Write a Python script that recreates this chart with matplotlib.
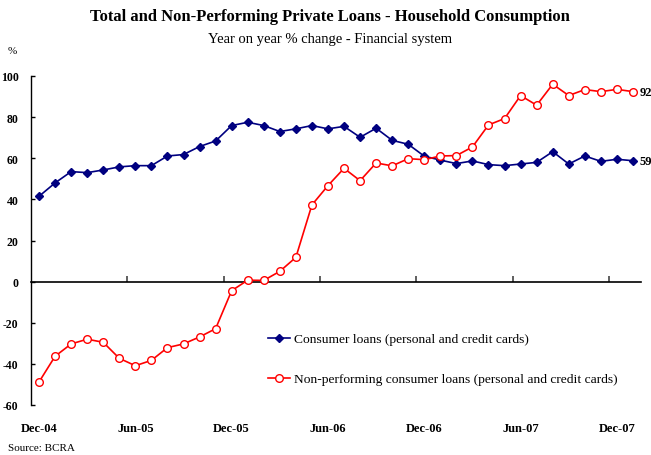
import numpy as np
import matplotlib
matplotlib.use("Agg")
import matplotlib.pyplot as plt

plt.rcParams['font.family'] = ['Liberation Serif', 'DejaVu Serif']
plt.rcParams['axes.unicode_minus'] = False

months = ['Dec-04', 'Jun-05', 'Dec-05', 'Jun-06', 'Dec-06', 'Jun-07', 'Dec-07']

# monthly y/y % change, Dec-04 .. Jan-08
consumer = [41.5, 48.0, 53.5, 53.0, 54.3, 55.8, 56.4, 56.4, 61.1, 61.8,
            65.7, 68.4, 75.9, 77.5, 75.9, 73.0, 74.3, 75.9, 74.3, 75.5,
            70.2, 74.6, 68.7, 66.8, 61.0, 59.1, 57.4, 58.7, 56.9, 56.4,
            57.2, 58.0, 63.2, 57.2, 61.1, 58.5, 59.5, 58.8]
non_perf = [-48.8, -36.3, -30.3, -28.0, -29.5, -37.3, -40.9, -38.3, -32.1, -30.3,
            -26.9, -22.9, -4.4, 0.7, 0.6, 5.0, 11.8, 37.3, 46.7, 55.1,
            49.1, 57.7, 56.3, 59.8, 59.3, 61.1, 61.3, 65.5, 76.2, 79.3,
            90.5, 85.8, 96.0, 90.5, 93.4, 92.4, 93.5, 92.4]

lbl_consumer = 'Consumer loans (personal and credit cards)'
lbl_non_perf = 'Non-performing consumer loans (personal and credit cards)'

W, H = 651, 456
fig = plt.figure(figsize=(W / 100, H / 100), dpi=100)
ax = fig.add_axes([31 / W, 1 - 406 / H, (641 - 31) / W, (406 - 77) / H])

x = np.arange(len(consumer))
ax.plot(x, consumer, color='#000080', lw=1.2, marker='D', ms=4,
        mfc='#000080', mec='#000080', label=lbl_consumer, zorder=3)
ax.plot(x, non_perf, color='#ff0000', lw=1.2, marker='o', ms=5.5,
        mfc='white', mec='#ff0000', mew=1.0, label=lbl_non_perf, zorder=3)

ax.set_xlim(-0.5, len(x) - 0.5)
ax.set_ylim(-60, 100)
ax.set_yticks(np.arange(-60, 101, 20))
ax.tick_params(axis='y', direction='in', length=3, width=1, pad=9, labelsize=8.5)
for t in ax.get_yticklabels():
    t.set_fontweight('bold')

for s in ['top', 'right']:
    ax.spines[s].set_visible(False)
ax.spines['left'].set_linewidth(1.0)
ax.spines['bottom'].set_position(('data', 0))
ax.spines['bottom'].set_linewidth(1.2)

# tick marks between months on the zero line
ax.set_xticks(np.arange(5.5, len(x), 6))
ax.set_xticklabels([])
ax.tick_params(axis='x', direction='in', length=4, width=1.2, color='#444444')

# month labels along the bottom
sec = ax.secondary_xaxis('bottom')
sec.set_xticks(np.arange(0, len(x), 6))
sec.set_xticklabels(months, fontweight='bold', fontsize=9)
sec.tick_params(length=0, pad=12)
sec.spines['bottom'].set_visible(False)

# end values
ax.text(x[-1] + 0.4, non_perf[-1], f'{non_perf[-1]:.0f}', va='center', ha='left',
        fontsize=9, fontweight='bold', clip_on=False)
ax.text(x[-1] + 0.4, consumer[-1], f'{consumer[-1]:.0f}', va='center', ha='left',
        fontsize=9, fontweight='bold', clip_on=False)

ax.legend(loc='upper left', bbox_to_anchor=(268 / W, 1 - 334 / H),
          bbox_transform=fig.transFigure, frameon=False, fontsize=9.7,
          handlelength=1.6, handletextpad=0.3, labelspacing=2.05,
          borderpad=0, borderaxespad=0)

fig.text(330 / W, 1 - 17 / H, 'Total and Non-Performing Private Loans - Household Consumption',
         ha='center', va='center', fontsize=12, fontweight='bold')
fig.text(330 / W, 1 - 39 / H, 'Year on year % change - Financial system',
         ha='center', va='center', fontsize=10.5)
fig.text(8 / W, 1 - 52 / H, '%', ha='left', va='center', fontsize=8)
fig.text(8 / W, 1 - 449 / H, 'Source: BCRA', ha='left', va='center', fontsize=8)

fig.savefig('out.png', dpi=100)
